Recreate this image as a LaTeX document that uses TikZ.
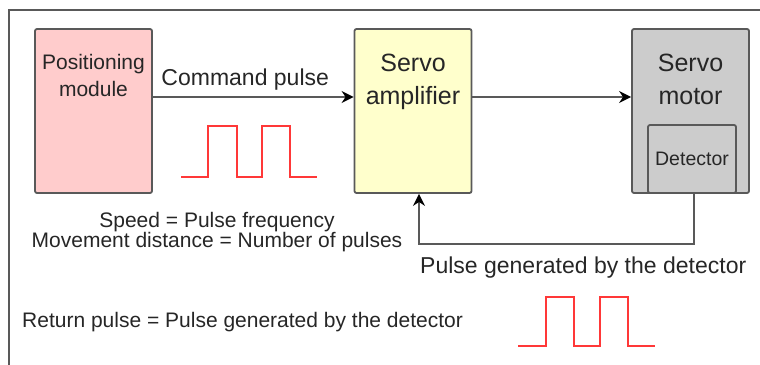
\documentclass[tikz,border=0pt]{standalone}
\usepackage{fontspec}
\setmainfont{Liberation Sans}
\usepackage{tikz}
\usetikzlibrary{arrows.meta, positioning, calc}
\usepackage{xcolor}
\definecolor{modcolor}{HTML}{FFCCCC}
\definecolor{ampcolor}{HTML}{FFFFCC}
\definecolor{motorcolor}{HTML}{CCCCCC}
\definecolor{linecolor}{HTML}{595959}
\definecolor{pulsecolor}{HTML}{FF3838}
\definecolor{txtcolor}{HTML}{262626}

\begin{document}
\begin{tikzpicture}[
    x=1pt, y=-1pt,
    box/.style={rectangle, draw=linecolor, line width=1.8pt, rounded corners=2pt, minimum width=117pt, minimum height=164pt, inner sep=0pt},
    boxtext/.style={anchor=north, inner sep=0pt, align=center, text=txtcolor, yshift=-26pt},
    arrow/.style={-{Stealth[length=12pt, width=12pt, color=black]}, draw=linecolor, line width=1.8pt},
    pulse/.style={draw=pulsecolor, line width=1.6pt},
    note/.style={inner sep=0pt, text=txtcolor, font=\fontsize{21}{20}\selectfont}
]
\useasboundingbox (0,0) rectangle (760,364);
\clip (0,0) rectangle (760,364);
\draw[linecolor, line width=1.8pt] (9,10) rectangle (800,400);

\node[box, fill=modcolor, label={[boxtext, font=\fontsize{21}{27}\selectfont]north:Positioning\\module}] (pm) at (93.5,111) {};
\node[box, fill=ampcolor, label={[boxtext, font=\fontsize{25}{33}\selectfont]north:Servo\\amplifier}] (amp) at (413,111) {};
\node[box, fill=motorcolor, label={[boxtext, font=\fontsize{25}{33}\selectfont]north:Servo\\motor}] (motor) at (690.5,111) {};
\node[box, fill=motorcolor, minimum width=88pt, minimum height=68pt, anchor=south, text=txtcolor, font=\fontsize{19.5}{22}\selectfont] (det) at ([xshift=1.5pt]motor.south) {Detector};

\draw[arrow] ([yshift=14pt]pm.east) -- node[pos=0.46, above=6pt, inner sep=0pt, text=txtcolor, font=\fontsize{23}{26}\selectfont] (cmd) {Command pulse} ([yshift=14pt]amp.west);
\draw[arrow] ([yshift=14pt]amp.east) -- ([yshift=14pt]motor.west);
\coordinate (fb) at ($(amp.south)+(6,50)$);
\draw[arrow] ([xshift=2pt]det.south) |- (fb) -- ([xshift=6pt]amp.south);
\node[below right=13pt and 1pt of fb, inner sep=0pt, text=txtcolor, font=\fontsize{23}{26}\selectfont] (fblabel) {Pulse generated by the detector};

\node[note, anchor=north, align=center] (speed) at (217,212.5) {Speed = Pulse frequency\\Movement distance = Number of pulses};
\node[note, anchor=west] (ret) at (22,322) {Return pulse = Pulse generated by the detector};

% command pulse train
\draw[pulse] (181,177) -- (208,177) -- (208,126) -- (237,126) -- (237,177) -- (262,177) -- (262,126) -- (290,126) -- (290,177) -- (317,177);
% return pulse train
\draw[pulse] (518,346) -- (546,346) -- (546,297) -- (574,297) -- (574,346) -- (600,346) -- (600,297) -- (628,297) -- (628,346) -- (655,346);
\end{tikzpicture}
\end{document}
